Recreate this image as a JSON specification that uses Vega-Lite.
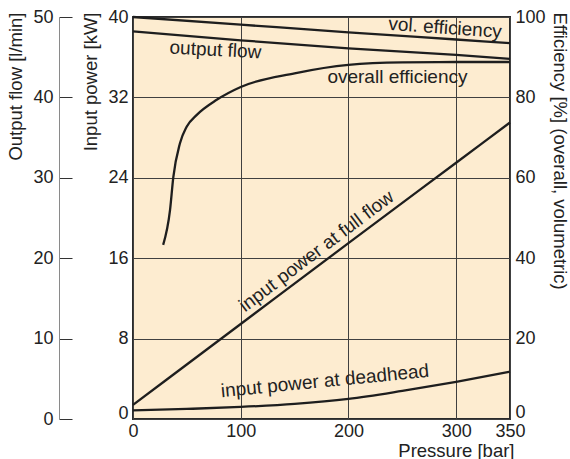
{
  "$schema": "https://vega.github.io/schema/vega-lite/v6.json",
  "width": 377,
  "height": 402,
  "autosize": {"type": "none"},
  "padding": {"left": 133, "top": 17, "right": 60, "bottom": 40},
  "background": "white",
  "datasets": {
    "power": [
      {"p": 0, "series": "full flow", "kW": 1.4},
      {"p": 100, "series": "full flow", "kW": 9.45},
      {"p": 200, "series": "full flow", "kW": 17.5},
      {"p": 300, "series": "full flow", "kW": 25.5},
      {"p": 350, "series": "full flow", "kW": 29.5},
      {"p": 0, "series": "deadhead", "kW": 0.85},
      {"p": 50, "series": "deadhead", "kW": 1.0},
      {"p": 100, "series": "deadhead", "kW": 1.2},
      {"p": 150, "series": "deadhead", "kW": 1.5},
      {"p": 200, "series": "deadhead", "kW": 2.0},
      {"p": 250, "series": "deadhead", "kW": 2.8},
      {"p": 300, "series": "deadhead", "kW": 3.7},
      {"p": 350, "series": "deadhead", "kW": 4.7}
    ],
    "flow": [
      {"p": 0, "flow": 48.2},
      {"p": 100, "flow": 47.1},
      {"p": 200, "flow": 46.1},
      {"p": 300, "flow": 45.3},
      {"p": 350, "flow": 44.8}
    ],
    "efficiency": [
      {"p": 0, "series": "volumetric", "eff": 100},
      {"p": 100, "series": "volumetric", "eff": 98.1},
      {"p": 200, "series": "volumetric", "eff": 96.2},
      {"p": 300, "series": "volumetric", "eff": 94.4},
      {"p": 350, "series": "volumetric", "eff": 93.5},
      {"p": 28, "series": "overall", "eff": 43.3},
      {"p": 34.4, "series": "overall", "eff": 52},
      {"p": 37.4, "series": "overall", "eff": 60.1},
      {"p": 43.6, "series": "overall", "eff": 68.6},
      {"p": 49.8, "series": "overall", "eff": 72.7},
      {"p": 59, "series": "overall", "eff": 75.6},
      {"p": 77.7, "series": "overall", "eff": 79.4},
      {"p": 100, "series": "overall", "eff": 82.6},
      {"p": 150, "series": "overall", "eff": 86.0},
      {"p": 200, "series": "overall", "eff": 88.1},
      {"p": 250, "series": "overall", "eff": 88.7},
      {"p": 300, "series": "overall", "eff": 88.8},
      {"p": 350, "series": "overall", "eff": 88.8}
    ]
  },
  "config": {
    "font": "Liberation Sans",
    "view": {"stroke": "#2b2b2b", "strokeWidth": 2, "fill": "#fdecd0"},
    "axis": {
      "labelFontSize": 18,
      "labelColor": "#222222",
      "titleFontSize": 18.5,
      "titleFontWeight": "normal",
      "titleColor": "#222222",
      "gridColor": "#404040",
      "gridOpacity": 1,
      "gridWidth": 1
    },
    "text": {"font": "Liberation Sans", "fontSize": 19, "color": "#222222"}
  },
  "encoding": {
    "x": {
      "field": "p",
      "type": "quantitative",
      "scale": {"domain": [0, 350], "nice": false},
      "axis": {
        "values": [0, 100, 200, 300, 350],
        "title": "Pressure [bar]",
        "titleAnchor": "end",
        "titleAlign": "right",
        "titleX": 381,
        "titlePadding": 1,
        "labelPadding": 3,
        "labelFlush": false,
        "ticks": false,
        "domain": false,
        "grid": true
      }
    }
  },
  "layer": [
    {
      "layer": [
        {
          "data": {"name": "power"},
          "mark": {"type": "line", "color": "#1e1e1e", "strokeWidth": 2.3, "interpolate": "monotone"},
          "encoding": {
            "y": {
              "field": "kW",
              "type": "quantitative",
              "scale": {"domain": [0, 40], "nice": false},
              "axis": {
                "orient": "left",
                "values": [0, 8, 16, 24, 32, 40],
                "title": "Input power [kW]",
                "titleAnchor": "end",
                "titleAlign": "right",
                "titleY": -5,
                "titlePadding": 7,
                "labelPadding": 5,
                "labelOffset": {"condition": {"test": "datum.value === 0", "value": -6}, "value": 0},
                "ticks": false,
                "domain": false,
                "grid": true
              }
            },
            "detail": {"field": "series"}
          }
        },
        {
          "data": {"values": [{"p": 170.4, "kW": 16.7, "label": "input power at full flow"}]},
          "mark": {"type": "text", "angle": -37, "align": "center", "baseline": "middle"},
          "encoding": {"y": {"field": "kW", "type": "quantitative"}, "text": {"field": "label"}}
        },
        {
          "data": {"values": [{"p": 178.2, "kW": 3.78, "label": "input power at deadhead"}]},
          "mark": {"type": "text", "angle": -5.6, "align": "center", "baseline": "middle"},
          "encoding": {"y": {"field": "kW", "type": "quantitative"}, "text": {"field": "label"}}
        }
      ]
    },
    {
      "layer": [
        {
          "data": {"name": "flow"},
          "mark": {"type": "line", "color": "#1e1e1e", "strokeWidth": 2.3},
          "encoding": {
            "y": {
              "field": "flow",
              "type": "quantitative",
              "scale": {"domain": [0, 50], "nice": false},
              "axis": {
                "orient": "left",
                "offset": 74,
                "values": [0, 10, 20, 30, 40, 50],
                "title": "Output flow [l/min]",
                "titleAnchor": "end",
                "titleAlign": "right",
                "titleY": -5,
                "titlePadding": 7,
                "tickSize": -13,
                "tickColor": "#333333",
                "labelPadding": 19,
                "domain": true,
                "domainColor": "#8a8a8a",
                "grid": false
              }
            }
          }
        },
        {
          "data": {"values": [{"p": 76.6, "flow": 45.9, "label": "output flow"}]},
          "mark": {"type": "text", "angle": 3, "align": "center", "baseline": "middle"},
          "encoding": {"y": {"field": "flow", "type": "quantitative"}, "text": {"field": "label"}}
        }
      ]
    },
    {
      "layer": [
        {
          "data": {"name": "efficiency"},
          "mark": {"type": "line", "color": "#1e1e1e", "strokeWidth": 2.3, "interpolate": "monotone"},
          "encoding": {
            "y": {
              "field": "eff",
              "type": "quantitative",
              "scale": {"domain": [0, 100], "nice": false},
              "axis": {
                "orient": "right",
                "values": [0, 20, 40, 60, 80, 100],
                "title": "Efficiency [%] (overall, volumetric)",
                "titleAnchor": "end",
                "titleAlign": "left",
                "titleY": -5,
                "titlePadding": 4,
                "labelPadding": 5,
                "labelOffset": {"condition": {"test": "datum.value === 0", "value": -7}, "value": 0},
                "ticks": false,
                "domain": false,
                "grid": false
              }
            },
            "detail": {"field": "series"}
          }
        },
        {
          "data": {"values": [{"p": 289.7, "eff": 97.3, "label": "vol. efficiency"}]},
          "mark": {"type": "text", "angle": 4, "align": "center", "baseline": "middle"},
          "encoding": {"y": {"field": "eff", "type": "quantitative"}, "text": {"field": "label"}}
        },
        {
          "data": {"values": [{"p": 245.5, "eff": 85.1, "label": "overall efficiency"}]},
          "mark": {"type": "text", "align": "center", "baseline": "middle"},
          "encoding": {"y": {"field": "eff", "type": "quantitative"}, "text": {"field": "label"}}
        }
      ]
    }
  ],
  "resolve": {"scale": {"y": "independent"}, "axis": {"y": "independent"}}
}
